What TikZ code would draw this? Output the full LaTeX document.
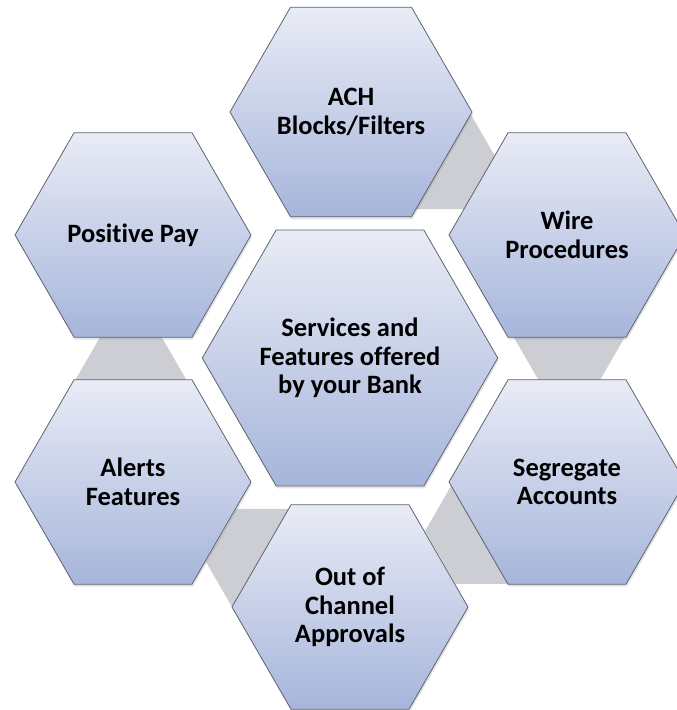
\documentclass[tikz,border=0pt]{standalone}
\usepackage{fontspec}
\setmainfont{Carlito}[Ligatures=NoCommon]
\usetikzlibrary{shapes.geometric,calc,shadows}
\pgfdeclarelayer{back}
\pgfsetlayers{back,main}
\definecolor{hextop}{RGB}{233,236,246}
\definecolor{hexbot}{RGB}{166,181,219}
\definecolor{hexline}{RGB}{95,99,110}
\definecolor{linkgray}{RGB}{204,206,212}
\begin{document}
\begin{tikzpicture}[x=1pt,y=-1pt,
  hexcell/.style={regular polygon, regular polygon sides=6, inner sep=0pt,
    draw=hexline, line width=0.8pt, top color=hextop, bottom color=hexbot,
    align=center, text=black, font=\fontsize{26.5}{28.5}\selectfont\bfseries,
    drop shadow={opacity=0.22, shadow xshift=1pt, shadow yshift=-2.5pt}},
  hubhex/.style={hexcell, minimum size=290pt},
  itemhex/.style={hexcell, minimum size=236pt},
  linkhex/.style={regular polygon, regular polygon sides=6, inner sep=0pt,
    minimum size=122pt, fill=linkgray}]
\useasboundingbox (0,0) rectangle (677,710);

% hub and the six surrounding cells
\node[hubhex]  (hub)    at (350,358) {Services and\\Features offered\\by your Bank};
\node[itemhex] (ach)    at (351,112) {ACH\\Blocks/Filters};
\node[itemhex] (wire)   at (567,235) {Wire\\Procedures};
\node[itemhex] (seg)    at (567,482) {Segregate\\Accounts};
\node[itemhex] (oob)    at (350,607) {Out of\\Channel\\Approvals};
\node[itemhex] (alerts) at (133,482) {Alerts\\Features};
\node[itemhex] (pos)    at (133,235) {Positive Pay};

% grey link cells tucked behind each neighbouring pair
\begin{pgfonlayer}{back}
\foreach \a/\b/\n in {ach/wire/l1, wire/seg/l2, seg/oob/l3, oob/alerts/l4, alerts/pos/l5}{
  \coordinate (m\n) at ($(\a)!0.5!(\b)$);
  \node[linkhex] (\n) at ($(hub)!1.02!8:(m\n)$) {};
}
\end{pgfonlayer}
\end{tikzpicture}
\end{document}
